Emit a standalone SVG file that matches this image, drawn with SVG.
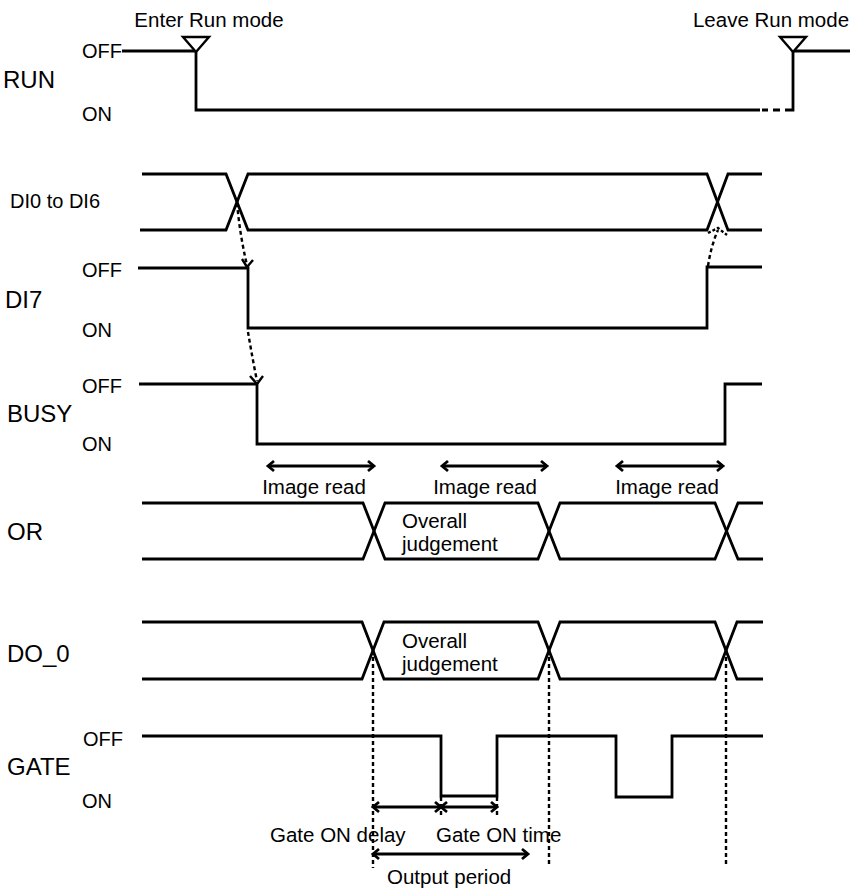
<svg xmlns="http://www.w3.org/2000/svg" width="852" height="889" viewBox="0 0 852 889">
<style>
text{font-family:"Liberation Sans",Arial,Helvetica,sans-serif;fill:#000}
.big{font-size:24px}
.sm{font-size:20px}
.ann{font-size:20.5px}
.mid{text-anchor:middle}
.sig{fill:none;stroke:#000;stroke-width:2.8;stroke-linejoin:miter}
.dot{fill:none;stroke:#000;stroke-width:2.4;stroke-dasharray:4 3}
.dim{fill:none;stroke:#000;stroke-width:2.8;marker-start:url(#ah);marker-end:url(#ah)}
.tri{fill:#fff;stroke:#000;stroke-width:2.4}
.head{fill:none;stroke:#000;stroke-width:2.4}
</style>
<defs>
<marker id="ah" markerUnits="userSpaceOnUse" markerWidth="14" markerHeight="14" viewBox="-8 -7 10 14" refX="0" refY="0" orient="auto-start-reverse" overflow="visible">
<path d="M-6,-5 L0,0 L-6,5" fill="none" stroke="#000" stroke-width="2.8"/>
</marker>
</defs>
<rect width="852" height="889" fill="#fff"/>

<g id="run">
<text class="big" x="3" y="88">RUN</text>
<text class="sm" x="82" y="58">OFF</text>
<text class="sm" x="82" y="121">ON</text>
<path class="sig" d="M122,51 H196 V110 H760"/>
<path class="sig" d="M762,110 H768 M773,110 H780 M785,110 H793 V51 H850"/>
<polygon class="tri" points="183,37 209,37 196,52"/>
<polygon class="tri" points="780,37 806,37 793,52"/>
<text class="ann mid" x="209" y="27">Enter Run mode</text>
<text class="ann mid" x="771" y="27">Leave Run mode</text>
</g>

<g id="di0-di6">
<text class="sm" x="10" y="208">DI0 to DI6</text>
<path class="sig" d="M142,174 H226 L248,230 H707 L728,174 H762"/>
<path class="sig" d="M140,230 H226 L248,174 H707 L728,230 H762"/>
</g>

<g id="di7">
<text class="big" x="5" y="308">DI7</text>
<text class="sm" x="82" y="277">OFF</text>
<text class="sm" x="82" y="337">ON</text>
<path class="sig" d="M138,268 H248 V328 H707 V267 H762"/>
</g>

<g id="busy">
<text class="big" x="7" y="422">BUSY</text>
<text class="sm" x="82" y="393">OFF</text>
<text class="sm" x="82" y="451">ON</text>
<path class="sig" d="M139,384 H257 V444 H725 V384 H762"/>
</g>

<g id="or">
<text class="big" x="7" y="540">OR</text>
<path class="sig" d="M142,503 H363 L385,559 H538 L560,503 H715 L738,559 H763"/>
<path class="sig" d="M142,559 H363 L385,503 H538 L560,559 H715 L738,503 H763"/>
<text class="ann" x="402" y="528">Overall</text>
<text class="ann" x="402" y="551">judgement</text>
</g>

<g id="do0">
<text class="big" x="7" y="662">DO_0</text>
<path class="sig" d="M142,622 H362 L384,679 H538 L560,622 H715 L737,679 H763"/>
<path class="sig" d="M142,679 H362 L384,622 H538 L560,679 H715 L737,622 H763"/>
<text class="ann" x="402" y="648">Overall</text>
<text class="ann" x="402" y="671">judgement</text>
</g>

<g id="gate">
<text class="big" x="7" y="775">GATE</text>
<text class="sm" x="83" y="746">OFF</text>
<text class="sm" x="82" y="808">ON</text>
<path class="sig" d="M142,736 H441 V796 H497 V736 H616 V797 H672 V736 H763"/>
</g>

<g id="connectors">
<path class="dot" d="M237,203 Q240,236 247,265"/>
<path class="head" d="M242,259 L247,267 L253,260"/>
<path class="dot" d="M248,332 Q252,356 257,381"/>
<path class="head" d="M250,376 L257,384 L263,376"/>
<path class="dot" d="M708,266 Q711,246 718,230"/>
<path class="dot" style="stroke-dasharray:3 2" d="M708,233 L718,228 L727,235"/>
<path class="dot" d="M373,650 V868"/>
<path class="dot" d="M549,650 V866"/>
<path class="dot" d="M726,650 V866"/>
<path class="dot" d="M441,797 V818"/>
<path class="dot" d="M497,797 V818"/>
<path class="dim" d="M268,466 H374"/>
<path class="dim" d="M442,466 H547"/>
<path class="dim" d="M617,466 H723"/>
<path class="dim" d="M373,807 H441"/>
<path class="dim" d="M441,807 H497"/>
<path class="dim" d="M373,854 H528"/>
</g>

<g id="labels">
<text class="ann mid" x="314" y="494">Image read</text>
<text class="ann mid" x="485" y="494">Image read</text>
<text class="ann mid" x="667" y="494">Image read</text>
<text class="ann" x="270" y="842">Gate ON delay</text>
<text class="ann" x="436" y="842">Gate ON time</text>
<text class="ann" x="387" y="884">Output period</text>
</g>
</svg>
